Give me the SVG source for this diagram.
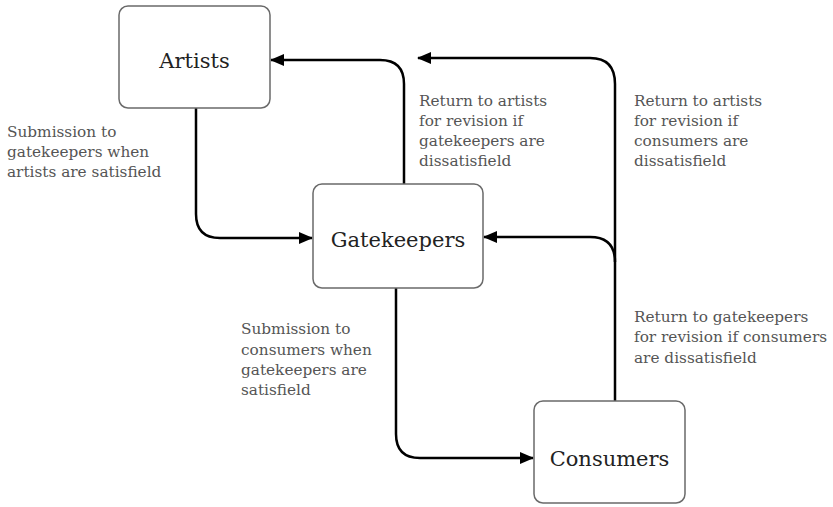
<svg xmlns="http://www.w3.org/2000/svg" width="833" height="507" viewBox="0 0 833 507">
<defs>
<marker id="ah" viewBox="0 0 14 12" refX="13" refY="6" markerWidth="14" markerHeight="12" markerUnits="userSpaceOnUse" orient="auto">
<path d="M0,0 L14,6 L0,12 z" fill="#000"/>
</marker>
<style>
.box{fill:#fff;stroke:#6a6a6a;stroke-width:1.5}
.nl{font-family:"DejaVu Serif","Liberation Serif",serif;font-size:21px;fill:#222;text-anchor:middle}
.lb{font-family:"DejaVu Serif","Liberation Serif",serif;font-size:15.3px;fill:#555}
.cn{fill:none;stroke:#000;stroke-width:2.5;marker-end:url(#ah)}
</style>
</defs>
<rect width="833" height="507" fill="#fff"/>
<g id="connectors">
<path class="cn" d="M196,108 V214 Q196,238 220,238 H312"/>
<path class="cn" d="M404,184 V84 Q404,60 380,60 H271"/>
<path class="cn" d="M615,401 V84 Q615,58 590,58 H418"/>
<path class="cn" d="M615,262 Q615,237 590,237 H484"/>
<path class="cn" d="M396,288 V434 Q396,458 420,458 H533"/>
</g>
<g id="artists">
<rect class="box" x="119" y="6" width="151" height="102" rx="9"/>
<text class="nl" x="194.5" y="68">Artists</text>
</g>
<g id="gatekeepers">
<rect class="box" x="313" y="184" width="170" height="104" rx="9"/>
<text class="nl" x="398" y="247">Gatekeepers</text>
</g>
<g id="consumers">
<rect class="box" x="534" y="401" width="151" height="102" rx="9"/>
<text class="nl" x="609.5" y="466">Consumers</text>
</g>
<g id="labels">
<text class="lb" x="7" y="137">Submission to</text>
<text class="lb" x="7" y="157">gatekeepers when</text>
<text class="lb" x="7" y="177">artists are satisfield</text>
<text class="lb" x="419" y="106">Return to artists</text>
<text class="lb" x="419" y="126">for revision if</text>
<text class="lb" x="419" y="146">gatekeepers are</text>
<text class="lb" x="419" y="166">dissatisfield</text>
<text class="lb" x="634" y="106">Return to artists</text>
<text class="lb" x="634" y="126">for revision if</text>
<text class="lb" x="634" y="146">consumers are</text>
<text class="lb" x="634" y="166">dissatisfield</text>
<text class="lb" x="241" y="334">Submission to</text>
<text class="lb" x="241" y="355">consumers when</text>
<text class="lb" x="241" y="375">gatekeepers are</text>
<text class="lb" x="241" y="395">satisfield</text>
<text class="lb" x="634" y="322">Return to gatekeepers</text>
<text class="lb" x="634" y="342">for revision if consumers</text>
<text class="lb" x="634" y="363">are dissatisfield</text>
</g>
</svg>
